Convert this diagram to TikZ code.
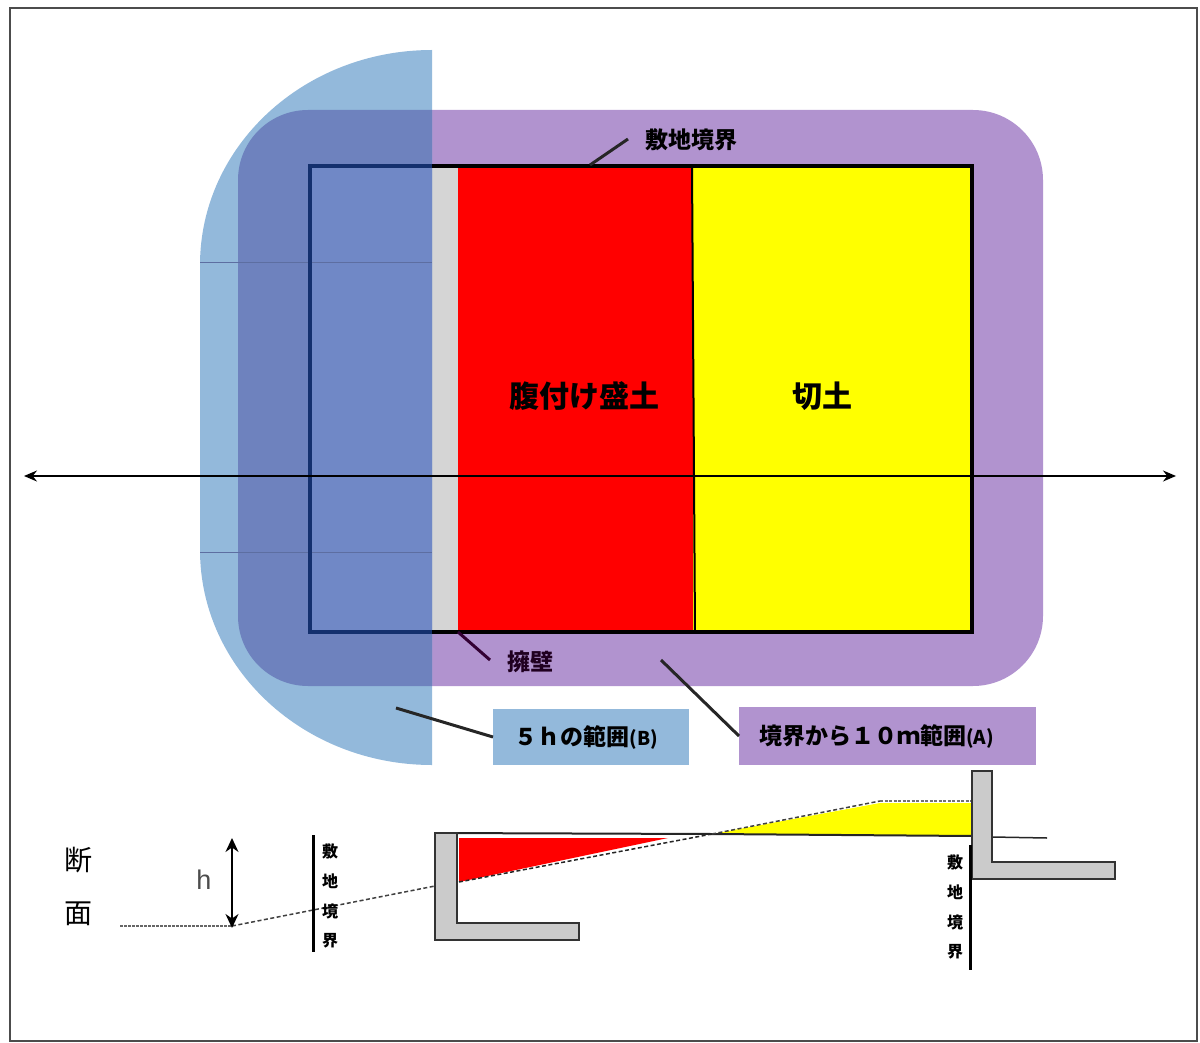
\documentclass[tikz,border=0pt]{standalone}
\usepackage{fontspec}
\usepackage{xcolor}
\setmainfont{Noto Sans CJK JP}
\newfontfamily\latinfont{Liberation Sans}
\usetikzlibrary{arrows.meta, positioning}
\definecolor{rangeA}{HTML}{B193CF}
\definecolor{rangeB}{HTML}{93B9DB}
\definecolor{overlap}{HTML}{6E82BE}
\definecolor{inner}{HTML}{7088C6}
\definecolor{siteline}{HTML}{14306E}
\definecolor{wallgray}{HTML}{CBCBCB}
\definecolor{cutyellow}{HTML}{FFFF00}
\definecolor{fillred}{HTML}{FF0000}

\begin{document}
\begin{tikzpicture}[x=1pt, y=-1pt, node distance=30pt, auto,
    zone/.style={rectangle, inner sep=0pt, minimum width=#1},
    label/.style={inner sep=0pt, font=\fontsize{23}{23}\selectfont\bfseries},
    big/.style={inner sep=0pt, font=\fontsize{30}{30}\selectfont\bfseries},
    tiny/.style={inner sep=0pt, font=\fontsize{16}{16}\selectfont\bfseries},
    keybox/.style={rectangle, inner sep=0pt, anchor=west, font=\fontsize{23}{23}\selectfont\bfseries},
    leader/.style={line width=3pt, draw=black!85},
    wall/.style={draw=black!80, line width=2.5pt, fill=wallgray, line join=miter},
    ground/.style={draw=black!85, line width=2pt},
    slope/.style={draw=black!75, line width=1.5pt, dash pattern=on 4pt off 2.5pt},
    arrow/.style={line width=1.8pt, {Stealth[length=14pt,width=13pt]}-{Stealth[length=14pt,width=13pt]}}]

    \useasboundingbox (0,0) rectangle (1200,1043);
    \draw [draw=black!70, line width=2pt] (10,8) rectangle (1197,1041);

    % plan
    \node [zone=805pt, minimum height=576pt, fill=rangeA, rounded corners=70pt] (areaA) at (640.5,398) {};
    \node [zone=235pt, minimum height=466pt, fill=fillred] (fill) at (575.5,399) {};
    \node [zone=279pt, minimum height=466pt, fill=cutyellow] (cut) at (832.5,399) {};
    \node [zone=26pt, minimum height=466pt, fill=wallgray!80!white] (wallplan) at (445,399) {};

    \fill [rangeB] (432,50) .. controls (304,50) and (200,146) .. (200,265)
        -- (200,550) .. controls (200,669) and (304,765) .. (432,765) -- cycle;
    \begin{scope}
        \clip (200,50) rectangle (432,765);
        \node [zone=805pt, minimum height=576pt, fill=overlap, rounded corners=70pt] at (640.5,398) {};
        \fill [inner] (310,166) rectangle (432,632);
    \end{scope}
    \draw [draw=overlap!85!black, line width=1pt] (200,263) -- (432,263);
    \draw [draw=overlap!85!black, line width=1pt] (200,552) -- (432,552);

    \draw [line width=2pt] (692,166) -- (695,632);
    \draw [line width=3.5pt] (432,166) -- (972,166) -- (972,632) -- (432,632);
    \draw [draw=siteline, line width=3.5pt] (432,166) -- (310,166) -- (310,632) -- (432,632);

    \coordinate (west) at (24,476);
    \coordinate (east) at (1176,476);
    \draw [line width=1.2pt, {Stealth[length=13pt,width=11pt]}-{Stealth[length=13pt,width=11pt]}] (west) -- (east);

    \node [big] (fillname) at (584,396) {腹付け盛土};
    \node [big] (cutname) at (822,396) {切土};
    \node [label] (sitename) at (691,140) {敷地境界};
    \node [label, text=black!75!violet] (wallname) at (530,662) {擁壁};
    \node [keybox, fill=rangeB, minimum width=196pt, minimum height=56pt] (keyB) at (493,737) {５ｈの範囲{\fontsize{19}{19}\selectfont(B)}\rule{10pt}{0pt}};
    \node [keybox, fill=rangeA, minimum width=297pt, minimum height=58pt] (keyA) at (739,736) {境界から１０ｍ範囲{\fontsize{19}{19}\selectfont(A)}\rule{22pt}{0pt}};

    \coordinate (siteend) at (590,165);
    \coordinate (sitetip) at (628,139);
    \coordinate (wallend) at (458,632);
    \coordinate (walltip) at (490,660);
    \coordinate (Bend) at (396,708);
    \coordinate (Aend) at (661,660);

    \draw [leader] (siteend) -- (sitetip);
    \draw [leader, draw=black!60!violet] (wallend) -- (walltip);
    \draw [leader] (Bend) -- (keyB.west);
    \draw [leader] (Aend) -- (keyA.west);

    % section
    \node [inner sep=0pt, font=\fontsize{28}{28}\selectfont] (sec1) at (78,860) {断};
    \node [inner sep=0pt, font=\fontsize{28}{28}\selectfont, below of=sec1, node distance=54pt] (sec2) {面};
    \node [inner sep=0pt, font=\fontsize{27}{27}\selectfont\latinfont, text=black!70] (hname) at (204,880) {h};

    \coordinate (flatend) at (120,926);
    \coordinate (htop) at (232,838);
    \coordinate (hfoot) at (232,928);
    \coordinate (wallfront) at (435,886);
    \coordinate (wallback) at (459,882);
    \coordinate (crossing) at (712,834);
    \coordinate (crest) at (880,801);
    \coordinate (wallright) at (972,801);

    \fill [fillred] (459,838) -- (459,882) -- (668,838) -- cycle;
    \fill [cutyellow] (crossing) -- (880,803) -- (972,803) -- (972,836) -- cycle;

    \draw [ground] (435,833) -- (crossing) -- (972,836);
    \draw [ground, line width=1.5pt] (992,837) -- (1047,838);
    \draw [slope, draw=black!60, dash pattern=on 2.5pt off 1.5pt] (flatend) -- (232,926);
    \draw [slope] (232,926) -- (wallfront);
    \draw [slope, draw=black!85] (wallback) -- (crossing);
    \draw [slope] (crossing) -- (crest);
    \draw [slope, draw=black!55, dash pattern=on 3pt off 1.5pt] (crest) -- (wallright);
    \draw [arrow] (htop) -- (hfoot);

    \draw [wall] (435,833) -- (457,833) -- (457,923) -- (579,923) -- (579,940) -- (435,940) -- cycle;
    \draw [wall] (972,771) -- (992,771) -- (992,862) -- (1115,862) -- (1115,879) -- (972,879) -- cycle;

    \coordinate (lefttop) at (313,835);
    \coordinate (leftfoot) at (313,952);
    \coordinate (righttop) at (970,845);
    \coordinate (rightfoot) at (970,970);
    \draw [line width=3pt] (lefttop) -- (leftfoot);
    \draw [line width=3pt] (righttop) -- (rightfoot);

    \node [tiny] (lsite1) at (330,851) {敷};
    \node [tiny, below of=lsite1] (lsite2) {地};
    \node [tiny, below of=lsite2] (lsite3) {境};
    \node [tiny, below of=lsite3] (lsite4) {界};
    \node [tiny] (rsite1) at (955,862) {敷};
    \node [tiny, below of=rsite1] (rsite2) {地};
    \node [tiny, below of=rsite2] (rsite3) {境};
    \node [tiny, below of=rsite3] (rsite4) {界};
\end{tikzpicture}
\end{document}
